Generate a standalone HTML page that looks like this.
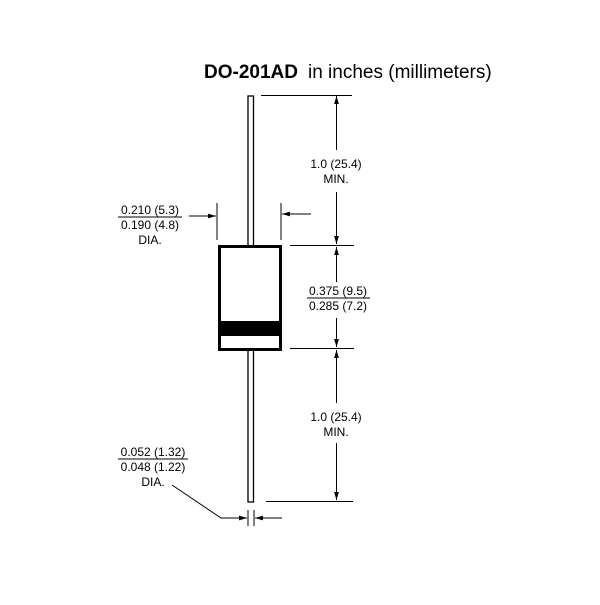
<!DOCTYPE html>
<html><head><style>body{margin:0;background:#fff}</style></head><body>
<svg width="600" height="600" xmlns="http://www.w3.org/2000/svg" font-family="Liberation Sans, sans-serif">
<defs><marker id="a" viewBox="0 0 10 10" refX="10" refY="5" markerWidth="8" markerHeight="8" orient="auto-start-reverse" markerUnits="userSpaceOnUse"><path d="M0,2 L10,5 L0,8 z" fill="#000"/></marker></defs>
<text x="204" y="78" font-size="19"><tspan font-weight="bold">DO-201AD</tspan><tspan dx="10">in inches (millimeters)</tspan></text>
<g stroke="#000" fill="none">
<rect x="248" y="96" width="5.5" height="150" stroke-width="1.3"/>
<rect x="248" y="350" width="5.5" height="152" stroke-width="1.3"/>
<rect x="219.5" y="246.5" width="61" height="103" stroke-width="3" fill="#fff"/>
</g>
<rect x="219" y="321" width="62" height="15" fill="#000"/>
<g stroke="#000" stroke-width="1">
<line x1="261" y1="95.5" x2="352" y2="95.5"/>
<line x1="290" y1="245.5" x2="354" y2="245.5"/>
<line x1="290" y1="348.5" x2="354" y2="348.5"/>
<line x1="266" y1="501.5" x2="353" y2="501.5"/>
<line x1="336.5" y1="150" x2="336.5" y2="96" marker-end="url(#a)"/>
<line x1="336.5" y1="192" x2="336.5" y2="244" marker-end="url(#a)"/>
<line x1="336.5" y1="282" x2="336.5" y2="247" marker-end="url(#a)"/>
<line x1="336.5" y1="318" x2="336.5" y2="347" marker-end="url(#a)"/>
<line x1="336.5" y1="403" x2="336.5" y2="350" marker-end="url(#a)"/>
<line x1="336.5" y1="443" x2="336.5" y2="500" marker-end="url(#a)"/>
<line x1="217" y1="203" x2="217" y2="240"/>
<line x1="281" y1="203" x2="281" y2="240"/>
<line x1="189" y1="216" x2="216" y2="216" marker-end="url(#a)"/>
<line x1="311" y1="214" x2="282" y2="214" marker-end="url(#a)"/>
<line x1="248" y1="510" x2="248" y2="526"/>
<line x1="254" y1="510" x2="254" y2="526"/>
<polyline points="172,485 221,518 247,518" fill="none" marker-end="url(#a)"/>
<line x1="282" y1="518" x2="255" y2="518" marker-end="url(#a)"/>
<line x1="118" y1="217" x2="182" y2="217"/>
<line x1="307" y1="298" x2="370" y2="298"/>
<line x1="118" y1="459" x2="188" y2="459"/>
</g>
<g font-size="12" text-anchor="middle">
<text x="336" y="168">1.0 (25.4)</text><text x="336" y="183">MIN.</text>
<text x="336" y="421">1.0 (25.4)</text><text x="336" y="436">MIN.</text>
<text x="150" y="214">0.210 (5.3)</text><text x="150" y="229">0.190 (4.8)</text><text x="150" y="244">DIA.</text>
<text x="338" y="295">0.375 (9.5)</text><text x="338" y="310">0.285 (7.2)</text>
<text x="153" y="456">0.052 (1.32)</text><text x="153" y="471">0.048 (1.22)</text><text x="153" y="486">DIA.</text>
</g>
</svg>
</body></html>
